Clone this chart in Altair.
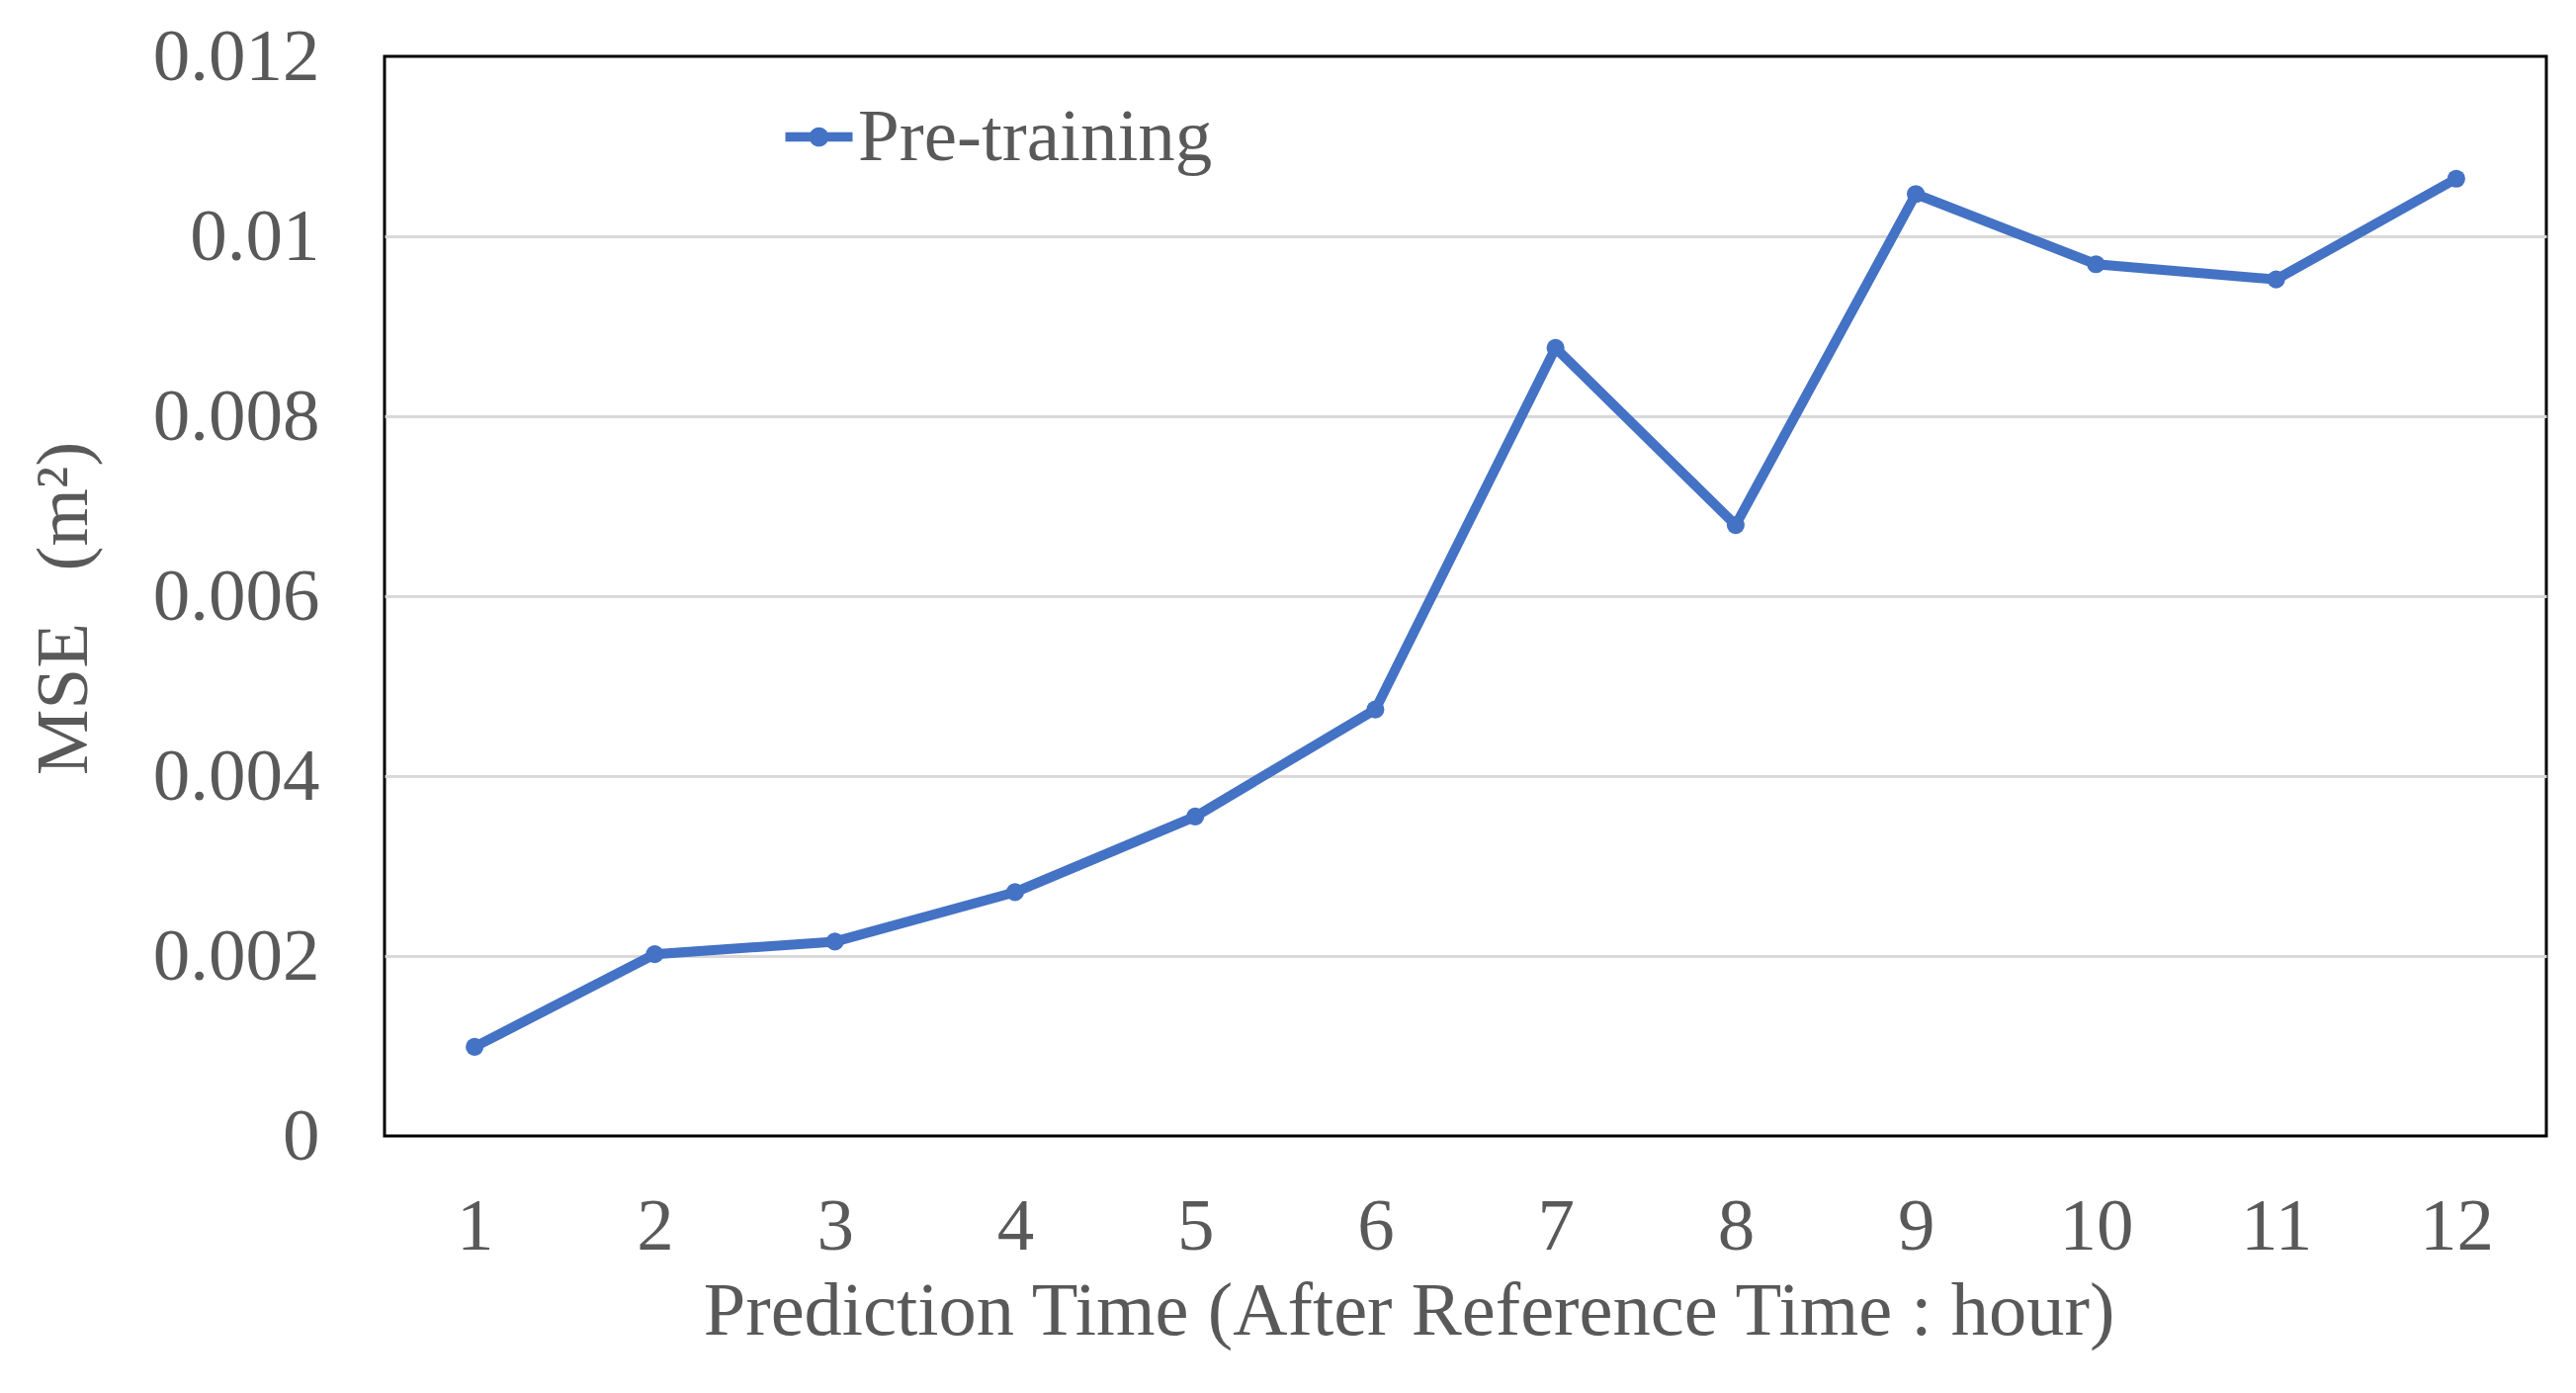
import altair as alt
import pandas as pd

hours = [1, 2, 3, 4, 5, 6, 7, 8, 9, 10, 11, 12]
mse = [0.00099, 0.00202, 0.00216, 0.00271, 0.00355, 0.00474,
       0.00876, 0.00679, 0.01047, 0.00969, 0.00952, 0.01064]
series_name = "Pre-training"
y_ticks = [0, 0.002, 0.004, 0.006, 0.008, 0.010, 0.012]

df = pd.DataFrame({"hour": hours, "mse": mse, "series": [series_name] * len(hours)})

FONT = "Liberation Serif"
GRAY = "#595959"
BLUE = "#4472C4"

legend_path = ("M-1,-0.14L1,-0.14L1,0.14L-1,0.14Z "
               "M0.29,0A0.29,0.29 0 1,1 -0.29,0A0.29,0.29 0 1,1 0.29,0Z")

chart = alt.Chart(df).mark_line(
    strokeWidth=10,
    point=alt.OverlayMarkDef(size=330, filled=True, color=BLUE, opacity=1),
).encode(
    x=alt.X("hour:O", sort=hours,
            axis=alt.Axis(title="Prediction Time (After Reference Time : hour)",
                          labelAngle=0, ticks=False, tickSize=0, domain=False, grid=False,
                          labelFont=FONT, labelFontSize=75, labelColor=GRAY,
                          labelPadding=55,
                          titleFont=FONT, titleFontSize=76.5, titleColor=GRAY,
                          titleFontWeight="normal",
                          titleX=1036, titleY=200, titleAlign="center",
                          titleBaseline="alphabetic")),
    y=alt.Y("mse:Q", scale=alt.Scale(domain=[0, 0.012], nice=False),
            axis=alt.Axis(title="MSE\u00a0\u00a0\u2009(m\u00b2)", values=y_ticks,
                          format="~g",
                          ticks=False, tickSize=0, domain=False,
                          grid=True, gridColor="#D9D9D9", gridWidth=3,
                          gridOpacity=alt.condition("datum.value <= 0 || datum.value >= 0.012",
                                                    alt.value(0), alt.value(1)),
                          labelFont=FONT, labelFontSize=75, labelColor=GRAY,
                          labelPadding=66,
                          titleFont=FONT, titleFontSize=75, titleColor=GRAY,
                          titleFontWeight="normal",
                          titleX=-302, titleY=558, titleAlign="center",
                          titleBaseline="alphabetic", titleAngle=270)),
    color=alt.Color("series:N", scale=alt.Scale(range=[BLUE]),
                    legend=alt.Legend(title=None, orient="none",
                                      legendX=402, legendY=44,
                                      symbolType=legend_path, symbolSize=4624,
                                      symbolFillColor=BLUE, symbolStrokeColor=BLUE,
                                      symbolStrokeWidth=0,
                                      labelFont=FONT, labelFontSize=75,
                                      labelColor=GRAY, labelOffset=2,
                                      labelLimit=0, padding=0)),
).properties(
    width=2187, height=1092,
    padding={"left": 381, "top": 49, "right": 20, "bottom": 240},
    autosize=alt.AutoSizeParams(type="none"),
    background="white",
).configure_view(
    stroke="black", strokeWidth=3,
)

chart.save("out.html", embed_options={"renderer": "svg", "actions": False})
